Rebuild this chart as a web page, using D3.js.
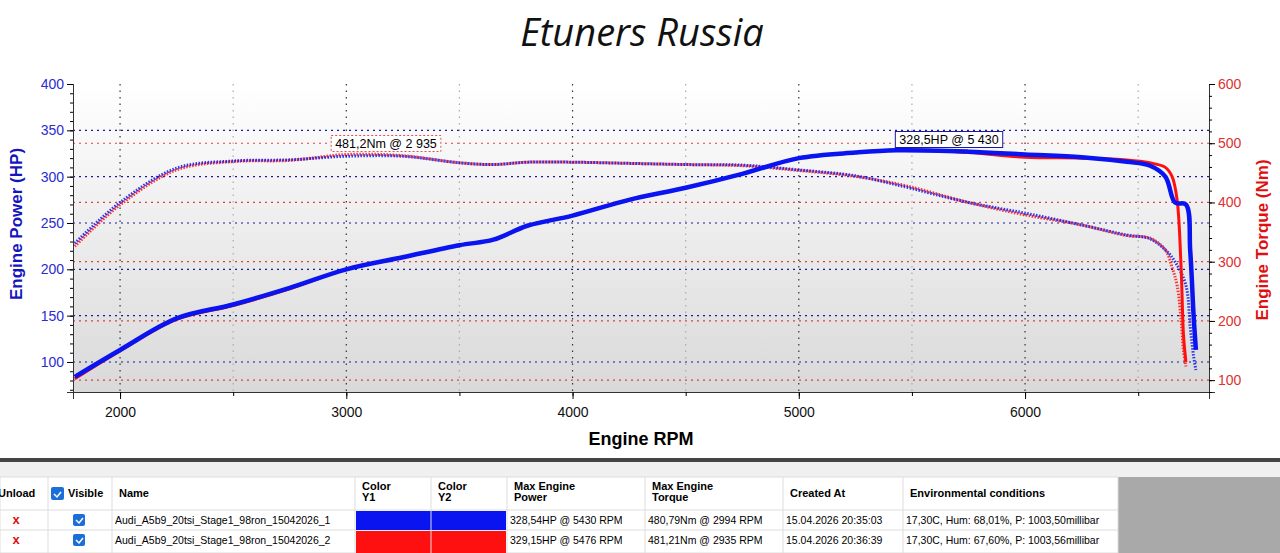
<!DOCTYPE html>
<html><head><meta charset="utf-8">
<script src="https://cdn.jsdelivr.net/npm/d3@7"></script>
<style>
body{margin:0;background:#fff;font-family:"Liberation Sans",Arial,sans-serif;overflow:hidden}
</style></head><body>
<script>
// run 1 (blue) and run 2 (red), rpm -> HP / Nm
const rpm1 = [1800,2000,2250,2500,2750,3000,3250,3500,3650,3800,4000,4250,4500,4750,5000,5250,5430,5750,6000,6250,6450,6550,6620,6663,6711,6730,6745,6755];
const hp1  = [84,113,147,162,180,200,213,226,232,247,258,275,288,303,320,326,328.5,327,324,321,316,312,300,272,270,220,150,113];
const rpm2 = [1800,2000,2250,2500,2750,3000,3250,3500,3650,3800,4000,4250,4500,4750,5000,5250,5476,5750,6000,6250,6450,6550,6620,6650,6672,6690,6700,6711];
const hp2  = [82,112,146,161,179,200,213,226,232,247,258,275,288,303,320,326,329,326,321,320,318,315,310,300,275,200,130,100];
const tq1  = [331,400,458,470,472,478,478,467,464,468,468,466,464,463,455,445,430,400,382,362,345,339,320,300,260,190,140,117];
const tq2  = [326,396,455,469,471,481,479,467,464,468,468,466,464,462,454,444,428,400,379,362,344,340,320,290,260,200,150,123];
const rpmTicks = [2000,3000,4000,5000,6000];
const hpTicks = [100,150,200,250,300,350,400];
const nmTicks = [100,200,300,400,500,600];
const tableCols = ["Unload","Visible","Name","Color\nY1","Color\nY2","Max Engine\nPower","Max Engine\nTorque","Created At","Environmental conditions"];
const tableRows = [
  ["Audi_A5b9_20tsi_Stage1_98ron_15042026_1","328,54HP @ 5430 RPM","480,79Nm @ 2994 RPM","15.04.2026 20:35:03","17,30C, Hum: 68,01%, P: 1003,50millibar"],
  ["Audi_A5b9_20tsi_Stage1_98ron_15042026_2","329,15HP @ 5476 RPM","481,21Nm @ 2935 RPM","15.04.2026 20:36:39","17,30C, Hum: 67,60%, P: 1003,56millibar"]];
const runColors = ["#0a14f0","#ff1010"];

const W = 1280, H = 553;
const svg = d3.select("body").append("svg").attr("width", W).attr("height", H);
const L = 73, R = 1209, T = 84, B = 392;

const x = d3.scaleLinear().domain([1792, 6813]).range([L, R]);
const yHP = d3.scaleLinear().domain([67.6, 400]).range([B, T]);
const yNm = d3.scaleLinear().domain([80, 600]).range([B, T]);

const grad = svg.append("defs").append("linearGradient").attr("id","bg").attr("x1",0).attr("x2",0).attr("y1",0).attr("y2",1);
grad.append("stop").attr("offset",0).attr("stop-color","#ffffff");
grad.append("stop").attr("offset",1).attr("stop-color","#d9d9d9");
svg.append("rect").attr("x",L).attr("y",T).attr("width",R-L).attr("height",B-T).attr("fill","url(#bg)");

svg.append("text").attr("x",642).attr("y",46).attr("text-anchor","middle")
  .attr("font-size",38).attr("font-style","italic").attr("font-family","Open Sans, sans-serif").attr("fill","#111").text("Etuners Russia");

// grid
d3.range(2000, 6801, 500).forEach(v => {
  const major = v % 1000 === 0;
  svg.append("line").attr("x1",x(v)).attr("x2",x(v)).attr("y1",T).attr("y2",B)
    .attr("stroke", major ? "#333" : "#aaa").attr("stroke-width",1.2).attr("stroke-dasharray","1.5,5");
});
hpTicks.slice(0,-1).forEach(v => svg.append("line").attr("x1",L).attr("x2",R).attr("y1",yHP(v)).attr("y2",yHP(v))
  .attr("stroke","#1a1a9a").attr("stroke-width",1.2).attr("stroke-dasharray","2,4"));
nmTicks.slice(0,-1).forEach(v => svg.append("line").attr("x1",L).attr("x2",R).attr("y1",yNm(v)).attr("y2",yNm(v))
  .attr("stroke","#e04040").attr("stroke-width",1.2).attr("stroke-dasharray","2,4"));

// axes
const ax = svg.append("g").attr("transform",`translate(0,${B})`)
  .call(d3.axisBottom(x).tickValues(rpmTicks).tickSize(7).tickFormat(d3.format("d")));
svg.append("g").attr("transform",`translate(0,${B})`)
  .call(d3.axisBottom(x).tickValues(d3.range(2000,6801,500)).tickSize(4).tickFormat(""));
const al = svg.append("g").attr("transform",`translate(${L},0)`)
  .call(d3.axisLeft(yHP).tickValues(hpTicks).tickSize(6));
svg.append("g").attr("transform",`translate(${L},0)`)
  .call(d3.axisLeft(yHP).tickValues(d3.range(70,401,10)).tickSize(3).tickFormat(""));
const ar = svg.append("g").attr("transform",`translate(${R},0)`)
  .call(d3.axisRight(yNm).tickValues(nmTicks).tickSize(6));
svg.append("g").attr("transform",`translate(${R},0)`)
  .call(d3.axisRight(yNm).tickValues(d3.range(80,601,20)).tickSize(3).tickFormat(""));
svg.selectAll(".domain").attr("stroke","#333");
ax.selectAll("text").attr("font-size",14).attr("fill","#111").attr("dy","1.1em");
al.selectAll("text").attr("font-size",14).attr("fill","#2b2bd0");
ar.selectAll("text").attr("font-size",14).attr("fill","#e03030");

svg.append("text").attr("x",641).attr("y",445).attr("text-anchor","middle").attr("font-size",18).attr("font-weight","bold").text("Engine RPM");
svg.append("text").attr("transform","translate(22,224) rotate(-90)").attr("text-anchor","middle")
  .attr("font-size",17).attr("font-weight","bold").attr("fill","#1515c0").text("Engine Power (HP)");
svg.append("text").attr("transform","translate(1268,240) rotate(-90)").attr("text-anchor","middle")
  .attr("font-size",17).attr("font-weight","bold").attr("fill","#e01010").text("Engine Torque (Nm)");

// curves
const line = (xs, ys, sc) => d3.line().curve(d3.curveCatmullRom.alpha(0.5)).x((d,i)=>x(xs[i])).y(d=>sc(d))(ys);
const curves = [[rpm1,hp1,tq1],[rpm2,hp2,tq2]];
[1,0].forEach(i => {
  const [r,h,t] = curves[i];
  svg.append("path").attr("d", line(r,t,yNm)).attr("fill","none").attr("stroke",runColors[i])
    .attr("stroke-width",3).attr("stroke-dasharray","1.5,1.5").attr("opacity",0.85);
});
[1,0].forEach(i => {
  const [r,h] = curves[i];
  svg.append("path").attr("d", line(r,h,yHP)).attr("fill","none").attr("stroke",runColors[i])
    .attr("stroke-width", i===0 ? 4.5 : 3);
});

// annotations
function note(cx, cy, txt, col, dash) {
  const g = svg.append("g");
  const t = g.append("text").attr("x",cx).attr("y",cy+4.5).attr("text-anchor","middle").attr("font-size",12.5).text(txt);
  const bb = t.node().getBBox();
  g.insert("rect","text").attr("x",bb.x-4).attr("y",bb.y-1).attr("width",bb.width+8).attr("height",bb.height+2)
    .attr("fill","#fff").attr("stroke",col).attr("stroke-dasharray",dash?"2,2":null);
}
note(386, 143, "481,2Nm @ 2 935", "#e05050", true);
note(949, 139, "328,5HP @ 5 430", "#1a1aa0", false);

// table
svg.append("rect").attr("x",0).attr("y",458).attr("width",W).attr("height",4).attr("fill","#444");
svg.append("rect").attr("x",0).attr("y",462).attr("width",W).attr("height",H-462).attr("fill","#f0f0f0");
svg.append("rect").attr("x",1118).attr("y",477).attr("width",W-1118).attr("height",H-477).attr("fill","#a9a9a9");
const colX = [0,48,112,355,431,507,645,783,903,1118];
const rowY = [477,510,530,553];
svg.append("rect").attr("x",0).attr("y",477).attr("width",1118).attr("height",H-477).attr("fill","#fff");
colX.forEach(cx => svg.append("line").attr("x1",cx).attr("x2",cx).attr("y1",477).attr("y2",H).attr("stroke","#ddd"));
rowY.forEach(ry => svg.append("line").attr("x1",0).attr("x2",1118).attr("y1",ry).attr("y2",ry).attr("stroke","#ddd"));
tableCols.forEach((c,i) => {
  const lines = c.split("\n");
  const tx = svg.append("text").attr("font-size",11).attr("font-weight","bold");
  lines.forEach((ln,k) => tx.append("tspan").attr("x", i===0 ? -2 : colX[i]+ (i===1?20:7))
    .attr("y", lines.length>1 ? 490+k*11 : 497).text(ln));
});
svg.append("rect").attr("x",51).attr("y",487).attr("width",13).attr("height",13).attr("rx",2).attr("fill","#1b6fd6");
tableRows.forEach((r,j) => {
  const cy = rowY[j+1] + 14;
  svg.append("text").attr("x",16).attr("y",cy).attr("text-anchor","middle").attr("font-size",13).attr("font-weight","bold").attr("fill","#e01010").text("x");
  svg.append("rect").attr("x",73).attr("y",cy-10).attr("width",12).attr("height",12).attr("rx",2).attr("fill","#1b6fd6");
  svg.append("path").attr("d",`M${76},${cy-4} l3,3 l4,-5`).attr("stroke","#fff").attr("fill","none").attr("stroke-width",1.5);
  svg.append("rect").attr("x",356).attr("y",rowY[j+1]+1).attr("width",150).attr("height",rowY[j+2]-rowY[j+1]-1).attr("fill",runColors[j]);
  svg.append("line").attr("x1",431).attr("x2",431).attr("y1",rowY[j+1]).attr("y2",rowY[j+2]).attr("stroke","#ddd");
  [[r[0],115],[r[1],510],[r[2],648],[r[3],786],[r[4],906]].forEach(([s,tx]) =>
    svg.append("text").attr("x",tx).attr("y",cy).attr("font-size",10.5).text(s));
});
svg.append("path").attr("d","M54,494 l3,3 l4,-5").attr("stroke","#fff").attr("fill","none").attr("stroke-width",1.5);
</script>
</body></html>
